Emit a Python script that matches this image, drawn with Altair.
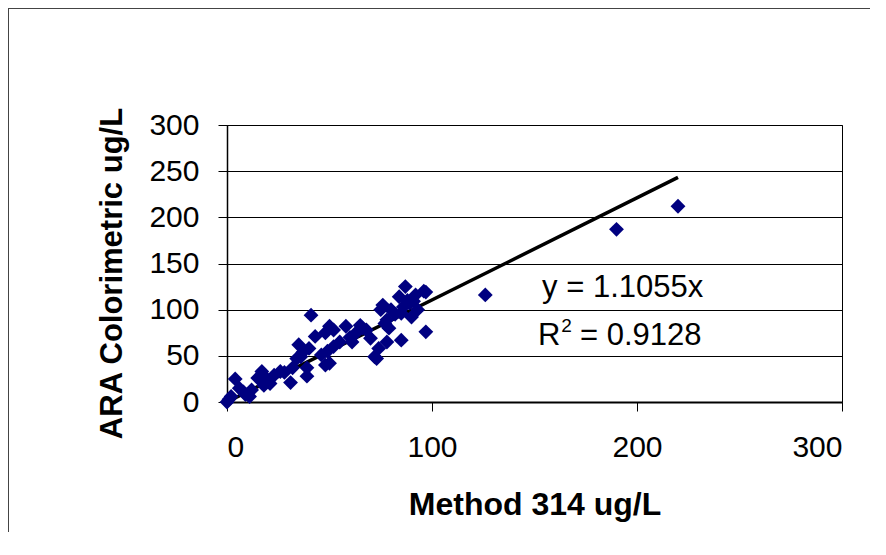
import altair as alt
import pandas as pd

# Method 314 (x) vs ARA Colorimetric (y), ug/L
method314 = [0, 1, 2, 4, 6, 8, 9, 11, 12, 15, 17, 18, 19, 21, 23, 26, 28, 31, 32, 34,
             35, 36, 37, 39, 39, 40, 41, 43, 46, 48, 48, 49, 50, 50, 52, 52, 55, 58, 60, 61,
             63, 65, 66, 68, 70, 72, 73, 74, 75, 76, 77, 78, 78, 79, 80, 82, 84, 85, 85, 86,
             87, 88, 89, 90, 91, 92, 93, 96, 97, 97, 126, 190, 220]
ara_colorimetric = [0, 3, 6, 25, 15, 11, 8, 6, 13, 26, 33, 18, 26, 20, 29, 33, 32, 21, 37, 47,
                    62, 49, 54, 28, 37, 58, 94, 71, 51, 40, 75, 55, 42, 82, 78, 60, 65, 82, 70, 65,
                    75, 83, 80, 78, 69, 49, 47, 58, 100, 105, 85, 89, 65, 80, 100, 95, 114, 67, 96, 103,
                    125, 110, 107, 92, 109, 116, 100, 120, 119, 76, 116, 187, 212]

slope = 1.1055
r_squared = "0.9128"

x_ticks = [0, 100, 200, 300]
y_ticks = [0, 50, 100, 150, 200, 250, 300]

W, H = 615, 277
PAD = {"left": 219, "top": 117, "right": 28, "bottom": 130}
FONT = "Liberation Sans"

pts = pd.DataFrame({"x": method314, "y": ara_colorimetric})
trend = pd.DataFrame({"x": [0, max(method314)], "y": [0, slope * max(method314)]})

xs = alt.Scale(domain=[0, 300], nice=False)
ys = alt.Scale(domain=[0, 300], nice=False)

x_axis = alt.Axis(values=x_ticks, title="Method 314 ug/L", grid=False,
                  labelFontSize=30, labelFont=FONT, labelColor="black",
                  labelPadding=21, tickSize=9, tickColor="black", domainColor="black",
                  domainWidth=2, titleFont=FONT, titleFontSize=32, titleFontWeight="bold",
                  titleColor="black", titlePadding=27)
y_axis = alt.Axis(values=y_ticks, title="ARA Colorimetric ug/L", grid=True,
                  gridColor="black", gridWidth=1, labelFontSize=30, labelFont=FONT,
                  labelColor="black", labelPadding=19, tickSize=9, tickColor="black",
                  domainColor="black", domainWidth=1.5, titleFont=FONT, titleFontSize=31,
                  titleFontWeight="bold", titleColor="black", titlePadding=20, titleY=148)

points = alt.Chart(pts).mark_point(shape="diamond", filled=True, size=220,
                                   color="#000080", opacity=1).encode(
    x=alt.X("x:Q", scale=xs, axis=x_axis),
    y=alt.Y("y:Q", scale=ys, axis=y_axis),
)

line = alt.Chart(trend).mark_line(color="black", strokeWidth=3.5).encode(
    x=alt.X("x:Q", scale=xs), y=alt.Y("y:Q", scale=ys))

ann = pd.DataFrame({
    "x": [153.7, 151.7, 163.0, 172.2],
    "y": [113.7, 61.7, 75.8, 61.7],
    "t": [f"y = {slope}x", "R", "2", f"= {r_squared}"],
    "s": [31, 31, 19, 31],
})
texts = alt.Chart(ann).mark_text(align="left", baseline="alphabetic", font=FONT,
                                 color="black").encode(
    x=alt.X("x:Q", scale=xs), y=alt.Y("y:Q", scale=ys), text="t:N",
    size=alt.Size("s:Q", scale=None, legend=None))

frame_df = pd.DataFrame({"a": [0]})
top_line = alt.Chart(frame_df).mark_rule(color="#444", strokeWidth=1).encode(
    x=alt.value(-PAD["left"]), x2=alt.value(W + PAD["right"]),
    y=alt.value(-PAD["top"] + 0.5))
left_line = alt.Chart(frame_df).mark_rule(color="#444", strokeWidth=1).encode(
    x=alt.value(-PAD["left"] + 0.5), y=alt.value(-PAD["top"]),
    y2=alt.value(H + PAD["bottom"]))

chart = alt.layer(line, points, texts, top_line, left_line).properties(
    width=W, height=H, autosize="none", padding=PAD, background="white"
).configure_view(stroke="black", strokeWidth=1)

chart.save("out.html", embed_options={"renderer": "svg", "actions": False})
